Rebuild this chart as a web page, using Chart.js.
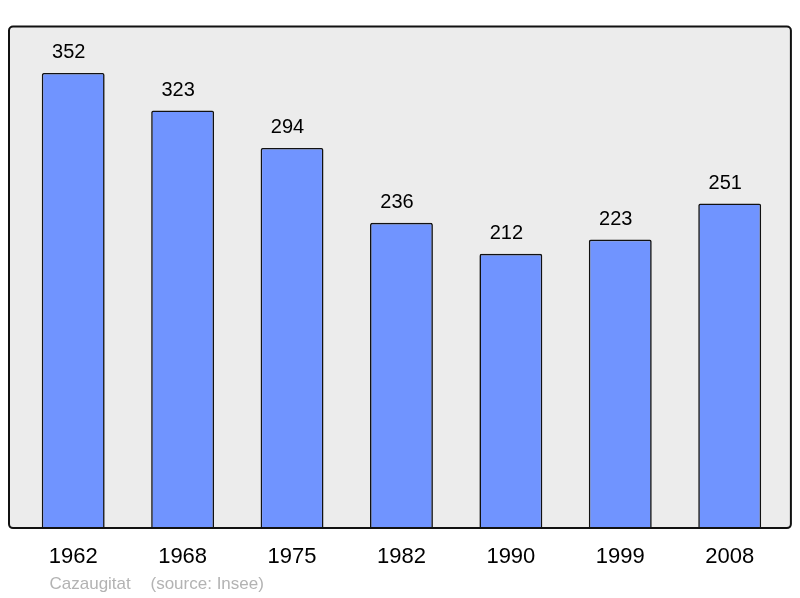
<!DOCTYPE html>
<html>
<head>
<meta charset="utf-8">
<script src="https://cdn.jsdelivr.net/npm/chart.js@4"></script>
<style>
  html, body { margin: 0; padding: 0; background: #fff; }
  #wrap { width: 800px; height: 598px; position: relative; }
</style>
</head>
<body>
<div id="wrap"><canvas id="chart" width="800" height="598"></canvas></div>
<script>
// ============================
// DATA
// ============================
const years = ["1962", "1968", "1975", "1982", "1990", "1999", "2008"];
const population = [352, 323, 294, 236, 212, 223, 251];
const townName = "Cazaugitat";
const sourceNote = "(source: Insee)";

// ============================
// PLUGINS
// ============================
// gray panel with rounded black frame behind the bars
const panelPlugin = {
  id: "panel",
  beforeDatasetsDraw(chart){
    const { ctx, chartArea: a } = chart;
    const x0 = a.left - 9.5, x1 = a.right + 6.5, y0 = a.top - 0.5, y1 = a.bottom + 0.5;
    ctx.save();
    ctx.beginPath();
    ctx.roundRect(x0, y0, x1 - x0, y1 - y0, 4);
    ctx.fillStyle = "#ececec";
    ctx.fill();
    ctx.restore();
  },
  afterDatasetsDraw(chart){
    const { ctx, chartArea: a } = chart;
    const x0 = a.left - 9.5, x1 = a.right + 6.5, y0 = a.top - 0.5, y1 = a.bottom + 0.5;
    ctx.save();
    ctx.beginPath();
    ctx.roundRect(x0, y0, x1 - x0, y1 - y0, 4);
    ctx.lineWidth = 2;
    ctx.strokeStyle = "#111";
    ctx.stroke();
    ctx.restore();
  }
};

// numbers above each bar + footer caption
const labelPlugin = {
  id: "labels",
  afterDraw(chart){
    const { ctx, chartArea: a } = chart;
    const meta = chart.getDatasetMeta(0);
    ctx.save();
    ctx.font = "20px 'Liberation Sans', Arial, sans-serif";
    ctx.fillStyle = "#000";
    ctx.textAlign = "center";
    ctx.textBaseline = "alphabetic";
    meta.data.forEach((bar, i) => {
      ctx.fillText(String(population[i]), bar.x - 4.5, bar.y - 14.5);
    });
    ctx.font = "17px 'Liberation Sans', Arial, sans-serif";
    ctx.fillStyle = "#b3b3b3";
    ctx.textAlign = "left";
    ctx.fillText(townName, a.left + 31, 589);
    ctx.fillText(sourceNote, a.left + 132, 589);
    ctx.restore();
  }
};

// ============================
// CHART
// ============================
new Chart(document.getElementById("chart").getContext("2d"), {
  type: "bar",
  data: {
    labels: years,
    datasets: [{
      data: population,
      backgroundColor: "#7094ff",
      borderColor: "#111",
      borderWidth: 1.6,
      borderSkipped: "bottom",
      borderRadius: 2,
      barPercentage: 0.575,
      categoryPercentage: 1
    }]
  },
  options: {
    responsive: false,
    animation: false,
    devicePixelRatio: 1,
    layout: { padding: { left: 18.5, right: 15.6, top: 27, bottom: 12 } },
    plugins: { legend: { display: false }, tooltip: { enabled: false } },
    scales: {
      x: {
        grid: { display: false, drawTicks: false },
        border: { display: false },
        ticks: {
          color: "#000",
          padding: 16,
          font: { family: "'Liberation Sans', Arial, sans-serif", size: 22 }
        }
      },
      y: {
        display: false,
        min: 0,
        max: 387.6
      }
    }
  },
  plugins: [panelPlugin, labelPlugin]
});
</script>
</body>
</html>
